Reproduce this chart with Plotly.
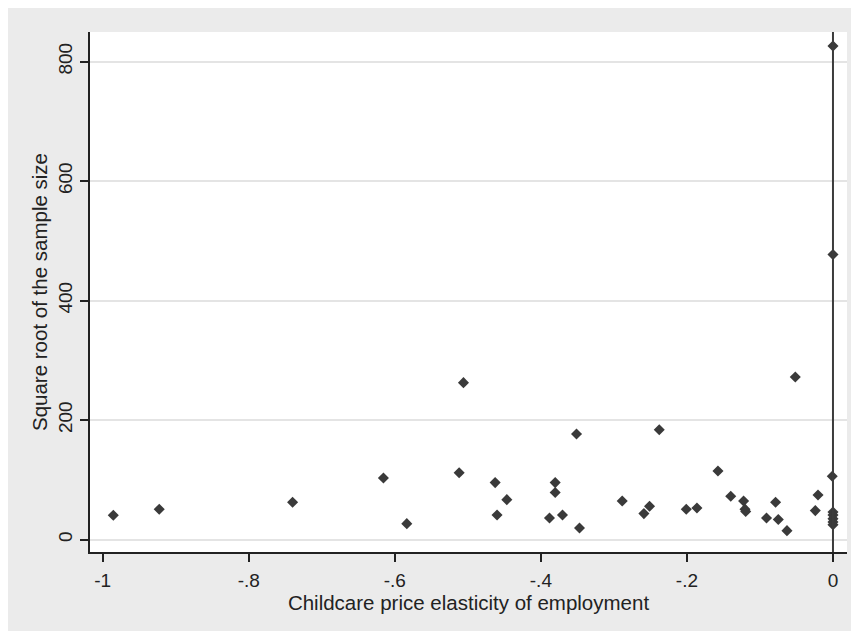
import plotly.graph_objects as go

# Data: childcare price elasticity of employment vs square root of sample size
elasticity = [
    -0.9855, -0.9226, -0.740, -0.6156, -0.5836, -0.506, -0.5119,
    -0.4626, -0.460, -0.4466, -0.3882, -0.3804, -0.3804, -0.3704,
    -0.3512, -0.3471, -0.2886, -0.2589, -0.2512, -0.2379, -0.2009,
    -0.1863, -0.1575, -0.1400, -0.1224, -0.1205, -0.1195, -0.0910,
    -0.0786, -0.0749, -0.063, -0.0516, -0.0242, -0.0205, -0.001,
    0.0, 0.0, 0.0, 0.0, 0.0, 0.0, 0.0,
]
sqrt_n = [
    40.7, 50.7, 62.4, 103, 26.7, 262.7, 112,
    95.4, 41.2, 66.9, 36.2, 95.4, 78.7, 41.2,
    176.8, 19.5, 64.6, 43.5, 55.7, 184, 50.7,
    52.9, 114.8, 72.5, 64.6, 51, 47, 36.2,
    62.4, 33.5, 15, 272, 48.5, 74.7, 106,
    826, 477, 46, 41, 35, 29.5, 25,
]
x_ticks = [-1, -0.8, -0.6, -0.4, -0.2, 0]
x_tick_labels = ["-1", "-.8", "-.6", "-.4", "-.2", "0"]
y_ticks = [0, 200, 400, 600, 800]
y_tick_labels = ["0", "200", "400", "600", "800"]
reference_x = 0

# figure sits 8px into the page (body margin)
W, H = 851, 623
L, R, T, B = 82, 12.3, 23.7, 79.3

FONT = "Liberation Sans, Arial, sans-serif"
INK = "#222222"
fig = go.Figure()
fig.add_trace(go.Scatter(
    x=elasticity, y=sqrt_n, mode="markers",
    marker=dict(symbol="diamond", size=8.5, color="#3a3a3a", line=dict(width=0)),
    showlegend=False, cliponaxis=False,
))
fig.add_vline(x=reference_x, line=dict(color="#3c3c3c", width=2), layer="above")

fig.update_layout(
    width=W, height=H,
    margin=dict(l=L, r=R, t=T, b=B, pad=0),
    paper_bgcolor="#ebebeb", plot_bgcolor="white",
    font=dict(family=FONT, color=INK),
    xaxis=dict(
        range=[-1.0174, 0.0192], tickvals=x_ticks, ticktext=x_tick_labels,
        showgrid=False, zeroline=False, showline=True, linecolor=INK, linewidth=2,
        ticks="outside", ticklen=8, tickwidth=2, tickcolor=INK,
        ticklabelstandoff=2,
        tickfont=dict(size=19, family=FONT, color=INK),
        title=dict(text="Childcare price elasticity of employment",
                   font=dict(size=20.5, family=FONT, color=INK), standoff=0),
        automargin=False,
    ),
    yaxis=dict(
        range=[-20.75, 849.5], tickvals=y_ticks, ticktext=y_tick_labels,
        showgrid=True, gridcolor="#e4e4e4", gridwidth=2, zeroline=False,
        showline=True, linecolor=INK, linewidth=2,
        ticks="outside", ticklen=8, tickwidth=2, tickcolor=INK,
        tickangle=-90,
        tickfont=dict(size=19, family=FONT, color=INK),
        title=dict(text="Square root of the sample size",
                   font=dict(size=20.5, family=FONT, color=INK), standoff=2),
        automargin=False,
    ),
)
fig.write_html("out.html")
